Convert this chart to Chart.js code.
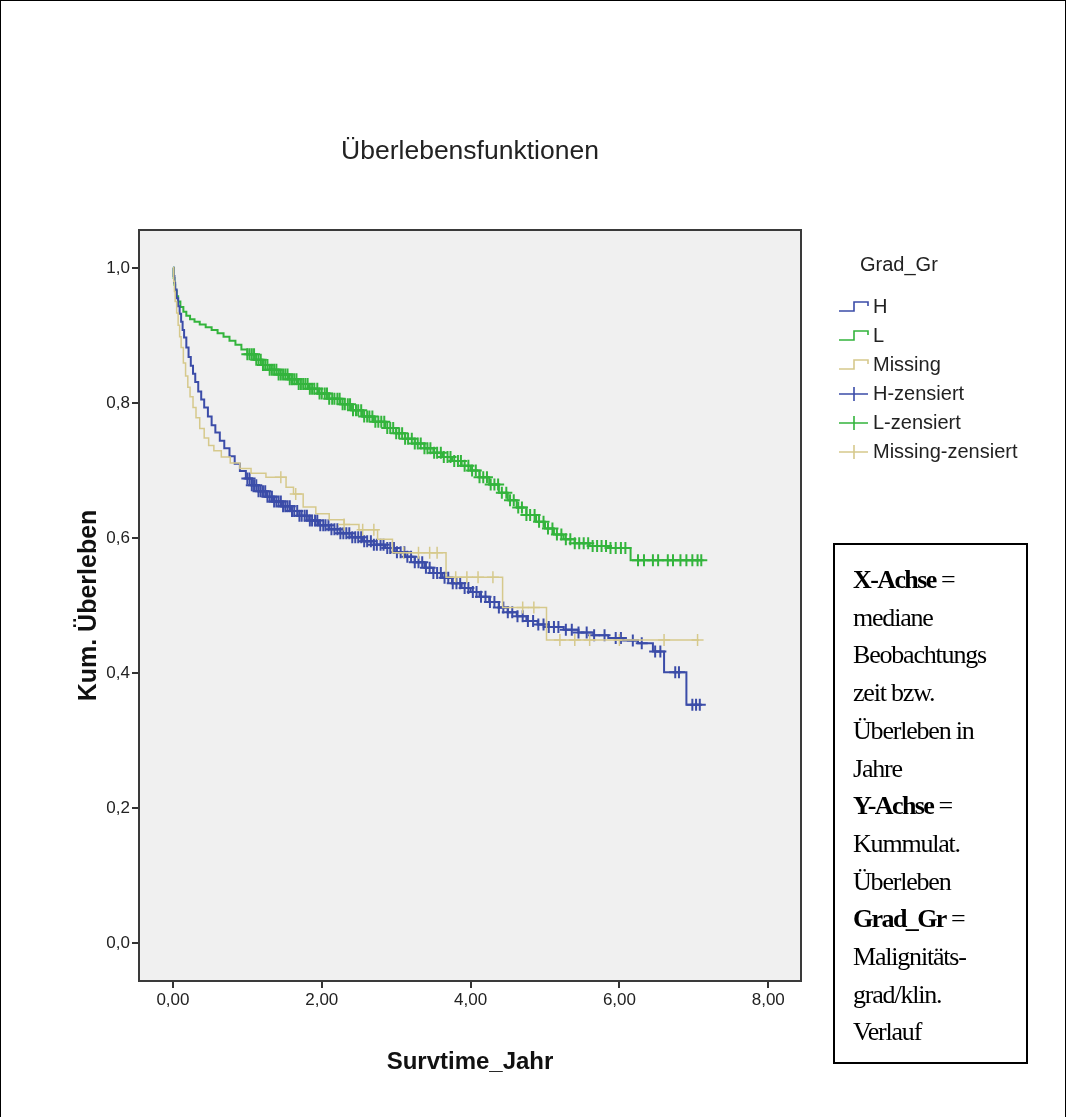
<!DOCTYPE html>
<html>
<head>
<meta charset="utf-8">
<script src="https://cdn.jsdelivr.net/npm/chart.js@4.4.1/dist/chart.umd.min.js"></script>
<style>
  html, body { margin: 0; padding: 0; background: #fff; }
  #wrap { position: relative; width: 1069px; height: 1117px; overflow: hidden; }
  #frame { position: absolute; left: 0; top: 0; width: 1066px; height: 1130px; border: 1px solid #000; box-sizing: border-box; }
  #chart { position: absolute; left: 0; top: 0; }
  #title { position: absolute; left: 0; width: 940px; top: 135px; line-height: 30px; text-align: center;
           font-family: 'Liberation Sans', Arial, sans-serif; font-size: 26.5px; color: #222; }
  .leg { position: absolute; font-family: 'Liberation Sans', Arial, sans-serif; font-size: 20px; color: #222; }
  .legrow { position: absolute; left: 838px; height: 29px; display: flex; align-items: center; }
  .legrow svg { width: 32px; height: 16px; margin-right: 3px; }
  #note { position: absolute; left: 833px; top: 543px; width: 195px; height: 521px; border: 2px solid #000; box-sizing: border-box;
          font-family: 'Liberation Serif', 'Times New Roman', serif; font-size: 26px; letter-spacing: -1.2px; line-height: 37.7px;
          color: #000; padding: 16px 0 0 18px; }
  #note b { letter-spacing: -1.6px; }
</style>
</head>
<body>
<div id="wrap">
  <canvas id="chart" width="1069" height="1117"></canvas>
  <div id="frame"></div>
  <div id="title">Überlebensfunktionen</div>
  <div class="leg" style="left:860px; top:253px;">Grad_Gr</div>
  <div id="legend"></div>
  <div id="note">
    <b>X-Achse</b> =<br>mediane<br>Beobachtungs<br>zeit bzw.<br>Überleben in<br>Jahre<br>
    <b>Y-Achse</b> =<br>Kummulat.<br>Überleben<br>
    <b>Grad_Gr</b> =<br>Malignitäts-<br>grad/klin.<br>Verlauf
  </div>
</div>
<script>
// tick labels
var xTicks = [0, 2, 4, 6, 8];
var yTicks = [0, 0.2, 0.4, 0.6, 0.8, 1.0];

// H (blue) Kaplan-Meier steps
var hTime = [0, 0.01, 0.02, 0.03, 0.05, 0.07, 0.09, 0.11, 0.13, 0.15, 0.18, 0.21, 0.24, 0.27, 0.30, 0.34, 0.38, 0.42, 0.47, 0.52,
  0.57, 0.63, 0.69, 0.76, 0.83, 0.90, 0.98, 1.06, 1.15, 1.25, 1.35, 1.46, 1.58, 1.70, 1.83, 1.96, 2.10, 2.25, 2.40, 2.55,
  2.70, 2.85, 3.00, 3.12, 3.25, 3.38, 3.50, 3.62, 3.75, 3.88, 4.00, 4.12, 4.25, 4.38, 4.50, 4.62, 4.75, 4.90, 5.05, 5.25,
  5.45, 5.65, 5.85, 6.05, 6.25, 6.45, 6.60, 6.90, 7.10];
var hSurv = [1.0, 0.988, 0.978, 0.968, 0.955, 0.943, 0.932, 0.92, 0.908, 0.897, 0.882, 0.868, 0.855, 0.843, 0.831, 0.817, 0.805, 0.793, 0.78, 0.767,
  0.756, 0.744, 0.733, 0.721, 0.71, 0.699, 0.688, 0.678, 0.669, 0.661, 0.654, 0.647, 0.640, 0.633, 0.626, 0.619, 0.613, 0.607, 0.601, 0.595,
  0.590, 0.585, 0.579, 0.572, 0.564, 0.556, 0.548, 0.541, 0.533, 0.526, 0.520, 0.513, 0.505, 0.497, 0.490, 0.484, 0.477, 0.472, 0.468, 0.464,
  0.460, 0.456, 0.452, 0.448, 0.444, 0.432, 0.401, 0.353, 0.353];

// L (green)
var lTime = [0, 0.01, 0.02, 0.03, 0.05, 0.07, 0.10, 0.14, 0.18, 0.23, 0.29, 0.36, 0.44, 0.52, 0.60, 0.68, 0.76, 0.84, 0.92, 1.00,
  1.10, 1.20, 1.30, 1.42, 1.55, 1.68, 1.82, 1.96, 2.10, 2.25, 2.40, 2.55, 2.70, 2.85, 3.00, 3.12, 3.25, 3.38, 3.50, 3.62,
  3.75, 3.88, 4.00, 4.12, 4.25, 4.38, 4.50, 4.62, 4.75, 4.88, 5.00, 5.12, 5.25, 5.40, 5.60, 5.85, 6.15, 7.10];
var lSurv = [1.0, 0.985, 0.975, 0.966, 0.958, 0.95, 0.942, 0.935, 0.929, 0.924, 0.92, 0.916, 0.912, 0.908, 0.903, 0.898, 0.892, 0.886, 0.879, 0.872,
  0.864, 0.856, 0.849, 0.842, 0.835, 0.828, 0.821, 0.814, 0.806, 0.798, 0.789, 0.78, 0.772, 0.763, 0.755, 0.747, 0.74, 0.733, 0.726, 0.72,
  0.714, 0.707, 0.70, 0.69, 0.679, 0.667, 0.656, 0.645, 0.634, 0.624, 0.614, 0.605, 0.598, 0.592, 0.588, 0.585, 0.567, 0.567];

// Missing (tan)
var mTime = [0, 0.01, 0.02, 0.03, 0.05, 0.07, 0.09, 0.11, 0.14, 0.17, 0.20, 0.23, 0.27, 0.31, 0.36, 0.42, 0.48, 0.55, 0.65, 0.77,
  0.90, 1.05, 1.25, 1.52, 1.62, 1.75, 1.92, 2.10, 2.30, 2.50, 2.75, 2.95, 3.67, 4.43, 5.02, 7.07];
var mSurv = [1.0, 0.98, 0.965, 0.95, 0.933, 0.915, 0.898, 0.882, 0.859, 0.84, 0.823, 0.809, 0.793, 0.778, 0.762, 0.748, 0.737, 0.729, 0.72, 0.711,
  0.703, 0.696, 0.69, 0.675, 0.665, 0.646, 0.636, 0.627, 0.62, 0.612, 0.598, 0.578, 0.542, 0.497, 0.449, 0.449];

// censored times
var hCens = [1.00, 1.03, 1.06, 1.09, 1.12, 1.15, 1.18, 1.21, 1.24, 1.27, 1.30, 1.33, 1.36, 1.39, 1.42, 1.45, 1.48, 1.51, 1.54, 1.57,
  1.60, 1.63, 1.67, 1.70, 1.73, 1.77, 1.80, 1.84, 1.87, 1.91, 1.94, 1.98, 2.02, 2.05, 2.09, 2.13, 2.17, 2.21, 2.25, 2.29,
  2.33, 2.37, 2.41, 2.45, 2.49, 2.53, 2.57, 2.61, 2.66, 2.70, 2.74, 2.79, 2.83, 2.88, 2.92, 2.97, 3.01, 3.06, 3.11, 3.15,
  3.20, 3.25, 3.30, 3.35, 3.40, 3.45, 3.50, 3.55, 3.60, 3.65, 3.70, 3.76, 3.81, 3.86, 3.92, 3.97, 4.03, 4.08, 4.14, 4.20,
  4.26, 4.32, 4.38, 4.44, 4.50, 4.56, 4.63, 4.70, 4.77, 4.84, 4.91, 4.98, 5.05, 5.12, 5.18, 5.28, 5.36, 5.45, 5.56, 5.66,
  5.80, 5.95, 6.02, 6.18, 6.30, 6.48, 6.55, 6.75, 6.80, 6.98, 7.03, 7.08];
var lCens = [1.00, 1.03, 1.06, 1.09, 1.12, 1.15, 1.18, 1.21, 1.24, 1.27, 1.30, 1.33, 1.36, 1.39, 1.42, 1.45, 1.48, 1.51, 1.54, 1.57,
  1.60, 1.63, 1.66, 1.69, 1.72, 1.75, 1.78, 1.81, 1.84, 1.87, 1.90, 1.94, 1.97, 2.00, 2.04, 2.07, 2.10, 2.14, 2.17, 2.21,
  2.24, 2.28, 2.31, 2.35, 2.38, 2.42, 2.46, 2.49, 2.53, 2.57, 2.61, 2.64, 2.68, 2.72, 2.76, 2.80, 2.84, 2.88, 2.92, 2.96,
  3.00, 3.04, 3.08, 3.12, 3.16, 3.21, 3.25, 3.29, 3.33, 3.38, 3.42, 3.46, 3.51, 3.55, 3.60, 3.64, 3.69, 3.73, 3.78, 3.83,
  3.87, 3.92, 3.97, 4.02, 4.07, 4.12, 4.17, 4.22, 4.27, 4.32, 4.37, 4.42, 4.48, 4.53, 4.58, 4.64, 4.69, 4.75, 4.80, 4.86,
  4.92, 4.98, 5.04, 5.10, 5.16, 5.22, 5.28, 5.34, 5.40, 5.46, 5.52, 5.58, 5.64, 5.70, 5.76, 5.82, 5.88, 5.95, 6.02, 6.08,
  6.25, 6.33, 6.45, 6.52, 6.65, 6.72, 6.82, 6.90, 6.98, 7.05, 7.10];
var mCens = [1.45, 1.65, 2.30, 2.55, 2.70, 3.10, 3.30, 3.45, 3.55, 3.80, 3.95, 4.10, 4.30, 4.70, 4.85, 5.20, 5.40, 5.60, 6.00, 6.60, 7.05];

var blue = '#3b4ca8', green = '#33b43c', tan = '#d6c98c';
var sans = "'Liberation Sans', Arial, sans-serif";

function steps(ts, ss) {
  return ts.map(function (t, i) { return {x: t, y: ss[i]}; });
}
// censored mark sits on the current KM step
function marks(cens, ts, ss) {
  return cens.map(function (t) {
    var v = ss[0];
    for (var i = 0; i < ts.length; i++) { if (ts[i] <= t) v = ss[i]; }
    return {x: t, y: v};
  });
}
function comma(v, d) { return v.toFixed(d).replace('.', ','); }

var plotFrame = {
  id: 'plotFrame',
  beforeDatasetsDraw: function (chart) {
    var a = chart.chartArea, c = chart.ctx;
    c.save();
    c.fillStyle = '#f0f0f0';
    c.fillRect(a.left, a.top, a.right - a.left, a.bottom - a.top);
    c.restore();
  },
  afterDatasetsDraw: function (chart) {
    var a = chart.chartArea, c = chart.ctx;
    c.save();
    c.strokeStyle = '#3a3a3a';
    c.lineWidth = 2;
    c.strokeRect(a.left, a.top, a.right - a.left, a.bottom - a.top);
    c.restore();
  }
};

new Chart(document.getElementById('chart'), {
  type: 'scatter',
  data: {
    datasets: [
      {label: 'Missing', data: steps(mTime, mSurv), showLine: true, stepped: true, borderColor: tan, borderWidth: 1.5, pointRadius: 0},
      {label: 'H', data: steps(hTime, hSurv), showLine: true, stepped: true, borderColor: blue, borderWidth: 2, pointRadius: 0},
      {label: 'L', data: steps(lTime, lSurv), showLine: true, stepped: true, borderColor: green, borderWidth: 2, pointRadius: 0},
      {label: 'Missing-zensiert', data: marks(mCens, mTime, mSurv), pointStyle: 'cross', pointRadius: 6, borderColor: tan, borderWidth: 1.5},
      {label: 'H-zensiert', data: marks(hCens, hTime, hSurv), pointStyle: 'cross', pointRadius: 6, borderColor: blue, borderWidth: 2},
      {label: 'L-zensiert', data: marks(lCens, lTime, lSurv), pointStyle: 'cross', pointRadius: 6, borderColor: green, borderWidth: 2}
    ]
  },
  options: {
    responsive: false,
    animation: false,
    layout: { padding: { left: 70, right: 268, top: 230, bottom: 36 } },
    plugins: {
      legend: { display: false },
      tooltip: { enabled: false },
      title: { display: false }
    },
    scales: {
      x: {
        type: 'linear',
        min: -0.456,
        max: 8.44,
        afterBuildTicks: function (s) { s.ticks = xTicks.map(function (v) { return {value: v}; }); },
        afterFit: function (s) { s.height = 100; },
        grid: { drawOnChartArea: false, drawTicks: true, tickLength: 7, color: '#333', lineWidth: 2 },
        border: { display: false },
        ticks: { color: '#222', padding: 2, font: { family: sans, size: 17 }, callback: function (v) { return comma(v, 2); } },
        title: { display: true, text: 'Survtime_Jahr', color: '#111', font: { family: sans, size: 24, weight: 'bold' }, padding: { top: 3 } }
      },
      y: {
        type: 'linear',
        min: -0.056,
        max: 1.056,
        afterBuildTicks: function (s) { s.ticks = yTicks.map(function (v) { return {value: v}; }); },
        afterFit: function (s) { s.width = 69; },
        grid: { drawOnChartArea: false, drawTicks: true, tickLength: 7, color: '#333', lineWidth: 2 },
        border: { display: false },
        ticks: { color: '#222', padding: 2, font: { family: sans, size: 17 }, callback: function (v) { return comma(v, 1); } },
        title: { display: true, text: 'Kum. Überleben', color: '#111', font: { family: sans, size: 25, weight: 'bold' }, padding: { top: 4 } }
      }
    }
  },
  plugins: [plotFrame]
});

// legend (HTML, icons as small svgs)
var legendItems = [
  {text: 'H', color: blue, kind: 'step'},
  {text: 'L', color: green, kind: 'step'},
  {text: 'Missing', color: tan, kind: 'step'},
  {text: 'H-zensiert', color: blue, kind: 'cross'},
  {text: 'L-zensiert', color: green, kind: 'cross'},
  {text: 'Missing-zensiert', color: tan, kind: 'cross'}
];
var legHtml = '';
legendItems.forEach(function (it, i) {
  var path = it.kind === 'step'
    ? '<path d="M1 12 H16 V3 H30 V7" fill="none" stroke="' + it.color + '" stroke-width="1.6"/>'
    : '<path d="M1 8 H30 M16 1 V15" fill="none" stroke="' + it.color + '" stroke-width="1.6"/>';
  legHtml += '<div class="leg legrow" style="top:' + (292 + i * 29) + 'px"><svg viewBox="0 0 32 16">' + path + '</svg>' + it.text + '</div>';
});
document.getElementById('legend').innerHTML = legHtml;
</script>
</body>
</html>
